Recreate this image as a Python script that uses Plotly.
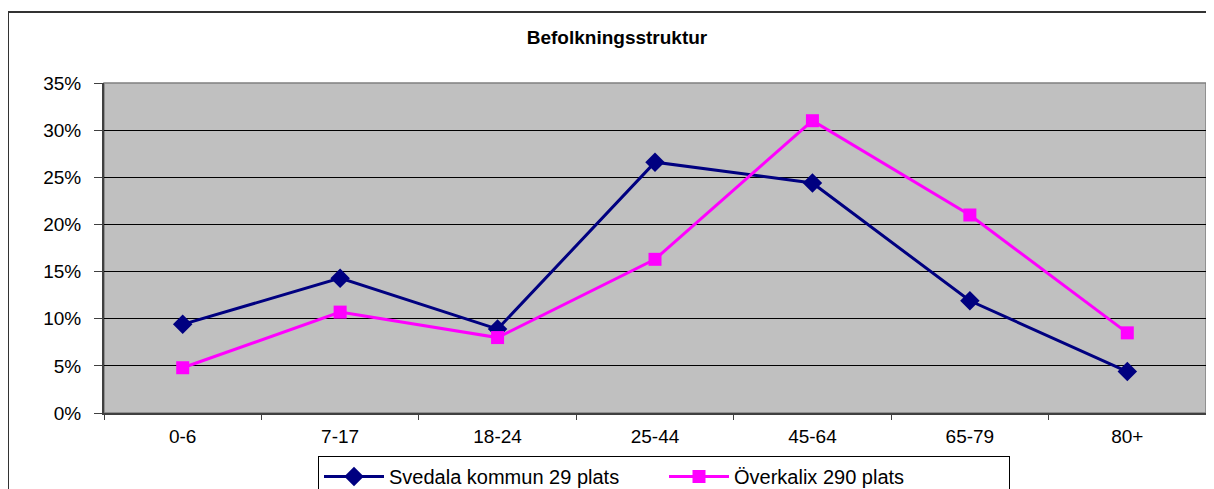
import plotly.graph_objects as go

categories = ["0-6", "7-17", "18-24", "25-44", "45-64", "65-79", "80+"]
svedala = [0.094, 0.143, 0.089, 0.266, 0.244, 0.119, 0.044]
overkalix = [0.048, 0.107, 0.080, 0.163, 0.310, 0.210, 0.085]
series_names = ["Svedala kommun 29 plats", "Överkalix 290 plats"]
title_text = "Befolkningsstruktur"

OFF = 8  # page body margin
W, H = 1214 - OFF, 489 - OFF
# target plot area in screen pixels: x 104..1206, y 83..413
L = 104 - OFF
R = W - (1206 - OFF)
T = 83 - OFF
B = H - (413 - OFF)
pw = W - L - R
ph = H - T - B

def px_x(sx):
    return (sx - OFF - L) / pw

def px_y(sy):
    return (H - B - (sy - OFF)) / ph

font = "Liberation Sans, Arial, sans-serif"

fig = go.Figure()
fig.add_trace(go.Scatter(
    x=categories, y=svedala, name=series_names[0], mode="lines+markers",
    line=dict(color="#000080", width=3),
    marker=dict(symbol="diamond", size=15, color="#000080"),
))
fig.add_trace(go.Scatter(
    x=categories, y=overkalix, name=series_names[1], mode="lines+markers",
    line=dict(color="#FF00FF", width=3),
    marker=dict(symbol="square", size=13, color="#FF00FF"),
))

fig.update_layout(
    width=W, height=H,
    margin=dict(l=L, r=R, t=T, b=B, pad=0, autoexpand=False),
    paper_bgcolor="white",
    plot_bgcolor="#C0C0C0",
    font=dict(family=font, color="black", size=19),
    title=dict(text="<b>" + title_text + "</b>", x=px_x(617), xref="paper",
               xanchor="center", y=1 - (37 - OFF) / H, yanchor="middle",
               font=dict(size=19, family=font, color="black")),
    showlegend=True,
    legend=dict(orientation="h", x=px_x(318), xanchor="left",
                y=px_y(456), yanchor="top", bordercolor="black", borderwidth=1,
                bgcolor="white", font=dict(size=20, family=font),
                tracegroupgap=0, itemwidth=60, entrywidth=270),
    xaxis=dict(type="category", range=[-0.5, 6.5], showgrid=False,
               showline=True, linecolor="#404040", linewidth=2,
               ticks="outside", tickson="boundaries", ticklen=5,
               tickcolor="#404040", tickfont=dict(size=19), zeroline=False,
               ticklabelstandoff=5),
    yaxis=dict(range=[0, 0.35], dtick=0.05, tickformat=".0%",
               showgrid=True, gridcolor="black", gridwidth=1,
               showline=True, linecolor="#404040", linewidth=2,
               ticks="outside", ticklen=8, tickcolor="#404040",
               tickfont=dict(size=19), zeroline=False,
               ticklabelstandoff=9),
)

# plot area top/right border (gray)
fig.add_shape(type="rect", xref="paper", yref="paper", x0=0, x1=1, y0=0, y1=1,
              line=dict(color="#808080", width=1.5), layer="below")
# outer chart border
fig.add_shape(type="rect", xref="paper", yref="paper",
              x0=px_x(8), x1=px_x(1240), y0=px_y(540), y1=px_y(12),
              line=dict(color="#333333", width=2))

fig.write_html("out.html")
